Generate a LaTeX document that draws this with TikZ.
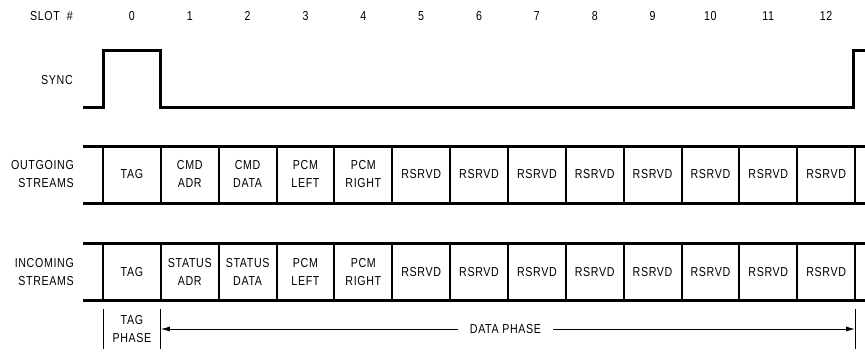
\documentclass[tikz,border=0pt]{standalone}
\usepackage{fontspec}
\setmainfont[FakeStretch=0.82,LetterSpace=5]{Liberation Sans}
\usetikzlibrary{arrows.meta}
\begin{document}
\begin{tikzpicture}[x=1pt,y=-1pt,
  lbl/.style={font=\fontsize{13}{18}\selectfont, inner sep=0pt, align=center},
  rlbl/.style={lbl, anchor=east, align=right},
  heavy/.style={line width=3pt},
  divider/.style={line width=2pt},
  thin/.style={line width=0.9pt}]
\useasboundingbox (0,0) rectangle (865,354);
\def\w{57.85}
\def\xo{103}
% labels
\node[rlbl] (slotlbl) at (73,16) {SLOT\hspace{7pt}\#};
\node[rlbl] (synclbl) at (73,80) {SYNC};
\node[rlbl] (outlbl) at (74,174) {OUTGOING\\STREAMS};
\node[rlbl] (inlbl) at (74,272) {INCOMING\\STREAMS};
% slot numbers
\foreach \i in {0,...,12} {
  \node[lbl] (n\i) at ({\xo+(\i+0.5)*\w},16) {\i};
}
% sync waveform
\coordinate (s0) at (83,107);
\coordinate (s1) at (\xo,107);
\coordinate (s2) at (\xo,50);
\coordinate (s3) at ({\xo+\w},50);
\coordinate (s4) at ({\xo+\w},107);
\coordinate (s5) at (853,107);
\coordinate (s6) at (853,50);
\coordinate (s7) at (866,50);
\draw[heavy, line join=miter] (s0) -- (s1) -- (s2) -- (s3) -- (s4) -- (s5) -- (s6) -- (s7);
% streams
\foreach \name/\yt/\yb in {o/146/203, i/243/300} {
  \coordinate (\name TL) at (83,\yt);
  \coordinate (\name TR) at (866,\yt);
  \coordinate (\name BL) at (83,\yb);
  \coordinate (\name BR) at (866,\yb);
  \draw[heavy] (\name TL) -- (\name TR);
  \draw[heavy] (\name BL) -- (\name BR);
  \foreach \k in {0,...,13} {
    \draw[divider] ({\xo+\k*\w},\yt) -- ({\xo+\k*\w},\yb);
  }
}
% outgoing cell texts
\foreach \i/\t in {0/TAG,1/{CMD\\ADR},2/{CMD\\DATA},3/{PCM\\LEFT},4/{PCM\\RIGHT},5/RSRVD,6/RSRVD,7/RSRVD,8/RSRVD,9/RSRVD,10/RSRVD,11/RSRVD,12/RSRVD} {
  \node[lbl] (o\i) at ({\xo+(\i+0.5)*\w},174) {\t};
}
\foreach \i/\t in {0/TAG,1/{STATUS\\ADR},2/{STATUS\\DATA},3/{PCM\\LEFT},4/{PCM\\RIGHT},5/RSRVD,6/RSRVD,7/RSRVD,8/RSRVD,9/RSRVD,10/RSRVD,11/RSRVD,12/RSRVD} {
  \node[lbl] (c\i) at ({\xo+(\i+0.5)*\w},272) {\t};
}
% phases
\coordinate (pA1) at (\xo,309);
\coordinate (pA2) at (\xo,349);
\coordinate (pB1) at ({\xo+\w},309);
\coordinate (pB2) at ({\xo+\w},349);
\coordinate (pC1) at ({\xo+13*\w},309);
\coordinate (pC2) at ({\xo+13*\w},349);
\draw[thin] (pA1) -- (pA2);
\draw[thin] (pB1) -- (pB2);
\draw[thin] (pC1) -- (pC2);
\node[lbl] (tagph) at ({\xo+0.5*\w},329) {TAG\\PHASE};
\node[lbl, fill=white, inner xsep=12pt, inner ysep=2pt] (dataph) at (505.5,329) {DATA PHASE};
\coordinate (aL) at ({\xo+\w},329);
\coordinate (aR) at ({\xo+13*\w},329);
\draw[thin, -{Latex[length=9pt,width=5pt]}] (dataph.west) -- (aL);
\draw[thin, -{Latex[length=9pt,width=5pt]}] (dataph.east) -- (aR);
\end{tikzpicture}
\end{document}
